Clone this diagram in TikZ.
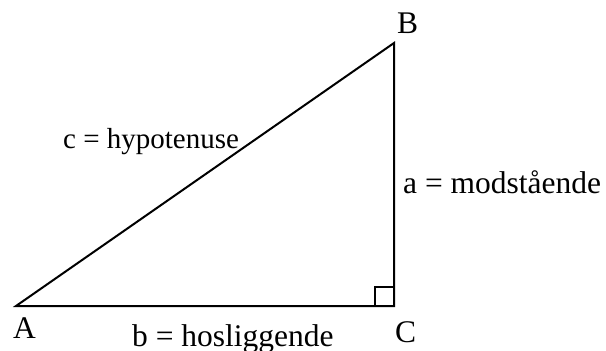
\documentclass[tikz,border=0pt]{standalone}
\usepackage{fontspec}
\setmainfont{Liberation Serif}
\tikzset{
  lbl/.style={inner sep=0pt, anchor=base west, font=\fontsize{31.5}{38}\selectfont},
  edge/.style={line width=2pt, line cap=butt, line join=miter}
}
\begin{document}
\begin{tikzpicture}[x=1pt, y=-1pt]
\useasboundingbox (0,0) rectangle (606,351);
\coordinate (A) at (16,306);
\coordinate (B) at (394,43);
\coordinate (C) at (394,306);
\draw[edge] (A) -- (B) -- (C) -- cycle;
\coordinate (S1) at (375,306);
\coordinate (S2) at (375,287);
\coordinate (S3) at (394,287);
\draw[edge] (S1) -- (S2) -- (S3);
\node[lbl] (lA) at (13,338) {A};
\node[lbl] (lB) at (397,33) {B};
\node[lbl] (lC) at (395,342) {C};
\node[lbl] (lb) at (132,346) {b = hosliggende};
\node[lbl] (la) at (403,193) {a = modstående};
\node[lbl, font=\fontsize{29}{35}\selectfont] (lc) at (63,148) {c = hypotenuse};
\end{tikzpicture}
\end{document}
